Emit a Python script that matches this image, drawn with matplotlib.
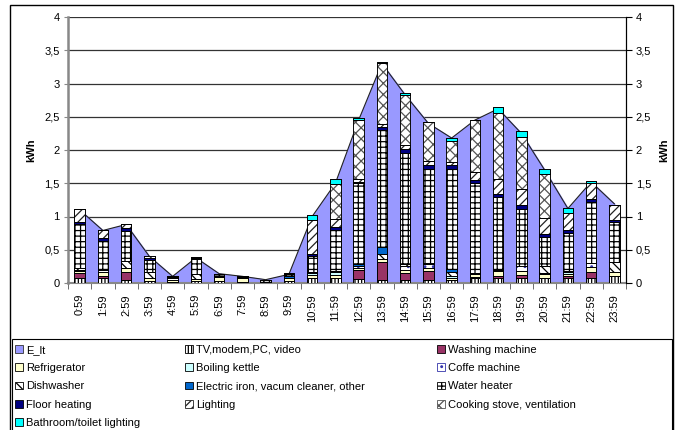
import numpy as np
import matplotlib.pyplot as plt
from matplotlib.patches import Rectangle
from matplotlib.ticker import FuncFormatter, FixedLocator

plt.rcParams['font.family'] = ['Liberation Sans', 'DejaVu Sans']
plt.rcParams['font.size'] = 8
plt.rcParams['hatch.linewidth'] = 0.9

# hourly labels
hours = ['0:59', '1:59', '2:59', '3:59', '4:59', '5:59', '6:59', '7:59',
         '8:59', '9:59', '10:59', '11:59', '12:59', '13:59', '14:59', '15:59',
         '16:59', '17:59', '18:59', '19:59', '20:59', '21:59', '22:59', '23:59']

# total (area)
e_lt = [1.10, 0.79, 0.88, 0.40, 0.10, 0.38, 0.14, 0.10, 0.05, 0.13, 1.00, 1.50,
        2.45, 3.30, 2.83, 2.40, 2.18, 2.45, 2.62, 2.25, 1.70, 1.12, 1.52, 1.19]

# appliance components (kWh)
tv     = [.07, .07, .04, .03, .02, .03, .03, .02, .02, .03, .07, .08, .06, .05, .05, .05, .04, .07, .08, .08, .07, .07, .08, .10]
wash   = [.08, .03, .12, 0, 0, 0, 0, 0, 0, 0, 0, 0, .13, .27, .10, .13, 0, .02, .03, .04, 0, .03, .09, 0]
fridge = [.03, .07, .07, .04, .03, .03, .06, .06, 0, .05, .05, .04, .04, .04, .05, .05, .04, .04, .07, .06, .06, .04, .07, .06]
kettle = [0, 0, 0, 0, 0, 0, 0, 0, 0, 0, .03, .04, 0, 0, 0, 0, .03, 0, 0, 0, .02, .03, 0, 0]
coffee = [.02, .02, 0, 0, .02, 0, .02, 0, 0, 0, .02, .02, .02, 0, .06, .05, 0, 0, 0, .07, 0, .01, .06, 0]
dish   = [.03, .02, .10, .10, 0, .08, 0, 0, 0, 0, 0, 0, 0, .08, .02, 0, .05, 0, 0, 0, .10, 0, 0, .15]
iron   = [0, 0, 0, 0, 0, 0, 0, 0, 0, .03, 0, 0, .03, .10, 0, .02, .05, .02, .02, 0, 0, 0, 0, 0]
heater = [.65, .42, .45, .18, .02, .22, .02, .01, .02, .02, .24, .62, 1.22, 1.76, 1.68, 1.42, 1.50, 1.36, 1.10, .87, .44, .57, .92, .60]
floor  = [.04, .04, .04, .02, .01, .02, .01, .01, .01, .01, .03, .04, .02, .04, .06, .06, .06, .04, .04, .05, .05, .05, .04, .04]
light  = [.20, .12, .06, .03, 0, .01, 0, 0, 0, 0, .50, .12, .05, .05, .05, .05, .05, .12, .22, .25, .23, .25, .25, .23]
cook   = [0, 0, 0, 0, 0, 0, 0, 0, 0, .01, 0, .53, .88, .92, .76, .59, .32, .78, 1.00, .78, .67, 0, 0, 0]
bath   = [0, 0, 0, 0, 0, 0, 0, 0, 0, 0, .08, .08, .03, .02, .02, 0, .04, 0, .08, .08, .08, .08, .02, 0]

# (label, values, face, hatch, edge)
series = [
    ('TV,modem,PC, video', tv, 'white', '|||||', 'black'),
    ('Washing machine', wash, '#993366', None, 'black'),
    ('Refrigerator', fridge, '#FFFFCC', None, 'black'),
    ('Boiling kettle', kettle, '#CCFFFF', None, 'black'),
    ('Coffe machine', coffee, 'white', '..', '#3333AA'),
    ('Dishwasher', dish, 'white', '\\\\\\\\', 'black'),
    ('Electric iron, vacum cleaner, other', iron, '#0066CC', None, 'black'),
    ('Water heater', heater, 'white', '+++', 'black'),
    ('Floor heating', floor, '#000080', None, 'black'),
    ('Lighting', light, 'white', '////', '#222222'),
    ('Cooking stove, ventilation', cook, 'white', 'xxx', '#555555'),
    ('Bathroom/toilet lighting', bath, '#00FFFF', None, 'black'),
]

fig = plt.figure(figsize=(6.84, 4.30), dpi=100)
ax = fig.add_axes([68 / 684, 1 - 283 / 430, (626 - 68) / 684, (283 - 17) / 430])

x = np.arange(len(hours))
ax.fill_between(x, e_lt, color='#9999FF', zorder=1)
ax.plot(x, e_lt, color='#222222', lw=0.8, zorder=2)

bottom = np.zeros(len(hours))
handles = [Rectangle((0, 0), 1, 1, facecolor='#9999FF', edgecolor='#333333', lw=0.6)]
labels = ['E_lt']
for name, vals, face, hatch, edge in series:
    vals = np.array(vals)
    ax.bar(x, vals, width=0.45, bottom=bottom, color=face, hatch=hatch,
           edgecolor=edge, linewidth=0.6, zorder=3)
    # black outline over each segment
    ax.bar(x, vals, width=0.45, bottom=bottom, fill=False,
           edgecolor='black', linewidth=0.6, zorder=4)
    bottom += vals
    handles.append(Rectangle((0, 0), 1, 1, facecolor=face, hatch=hatch,
                             edgecolor=edge, lw=0.6))
    labels.append(name)

ax.set_xlim(-0.5, len(hours) - 0.5)
ax.set_ylim(0, 4)
ax.set_yticks(np.arange(0, 4.01, 0.5))
fmt = FuncFormatter(lambda v, p: ('%g' % v).replace('.', ','))
ax.yaxis.set_major_formatter(fmt)
ax.grid(axis='y', color='#333333', lw=0.9, zorder=0)
ax.set_axisbelow(True)

ax.set_xticks(x)
ax.set_xticklabels(hours, rotation=90, va='top')
ax.xaxis.set_minor_locator(FixedLocator(np.arange(-0.5, len(hours), 1)))
ax.tick_params(axis='x', which='major', length=0, pad=8)
ax.tick_params(axis='x', which='minor', length=4, color='#555555')
ax.tick_params(axis='y', length=3, color='#888888', pad=3)

ax.spines['top'].set_visible(False)
ax.spines['left'].set_color('#888888')
ax.spines['left'].set_linewidth(1.8)
ax.spines['bottom'].set_color('#888888')
ax.spines['bottom'].set_linewidth(1.5)
ax.spines['right'].set_color('black')
ax.set_ylabel('kWh', fontweight='bold', labelpad=6)

ax2 = ax.twinx()
ax2.set_ylim(0, 4)
ax2.set_yticks(np.arange(0, 4.01, 0.5))
ax2.yaxis.set_major_formatter(fmt)
ax2.tick_params(axis='y', length=4, color='black', pad=3)
for s in ['top', 'left', 'bottom']:
    ax2.spines[s].set_visible(False)
ax2.set_ylabel('kWh', fontweight='bold', labelpad=6)

# legend, three columns, row-major
cols_x = [15, 185, 437]
for c in range(3):
    hs = handles[c::3]
    ls = labels[c::3]
    fig.legend(hs, ls, loc='upper left',
               bbox_to_anchor=(cols_x[c] / 684, 1 - 345 / 430),
               frameon=False, borderpad=0, borderaxespad=0,
               handlelength=0.7, handleheight=0.7, handletextpad=0.3,
               labelspacing=0.74, fontsize=8)

fig.patches.append(Rectangle((12 / 684, -0.01), 660 / 684, (430 - 339) / 430 + 0.01,
                             transform=fig.transFigure, fill=False,
                             edgecolor='black', lw=0.8))
fig.patches.append(Rectangle((10 / 684, -0.01), 663 / 684, 1 - 5 / 430 + 0.01,
                             transform=fig.transFigure, fill=False,
                             edgecolor='black', lw=1.0))

fig.savefig('out.png', dpi=100)
